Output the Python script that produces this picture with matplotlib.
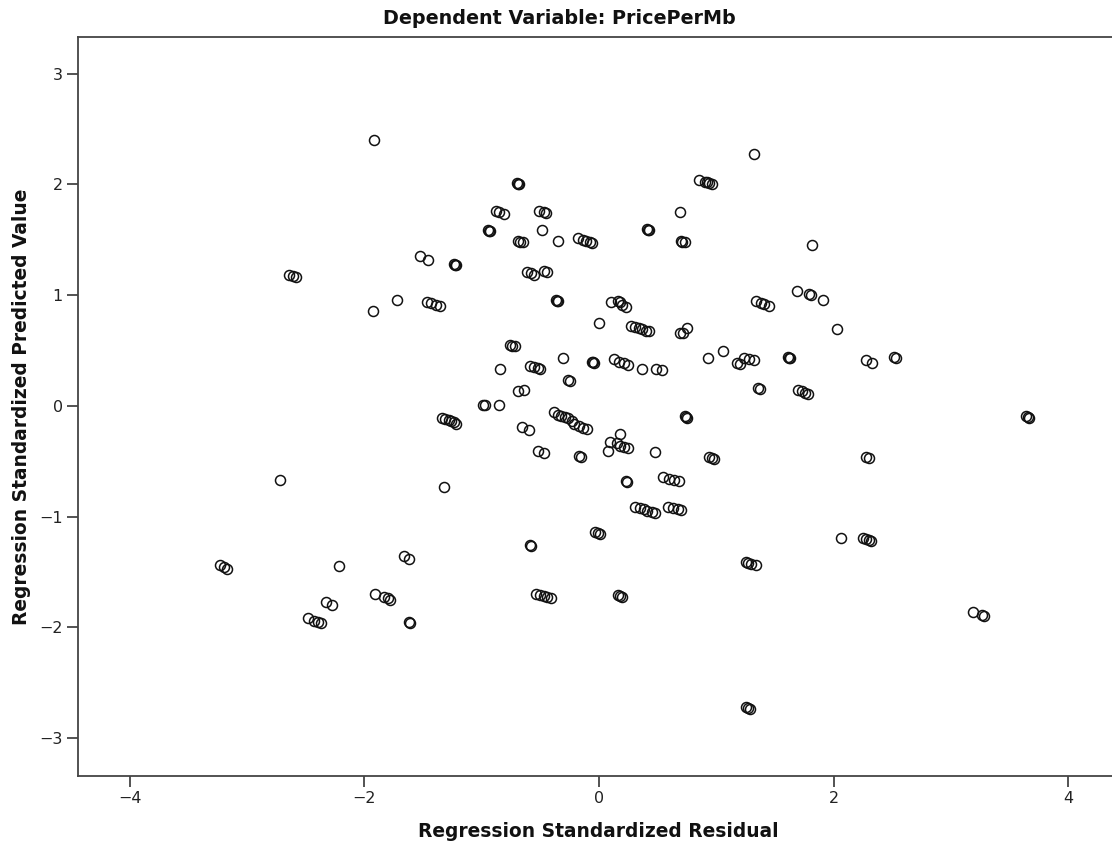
import matplotlib
matplotlib.use("Agg")
import matplotlib.pyplot as plt

# Regression standardized residuals (x) and standardized predicted values (y)
std_residual = [
    -1.92, 1.32,
    -0.70, -0.69, -0.68,
    0.85, 0.90, 0.92, 0.94, 0.96,
    0.69,
    -0.88, -0.85, -0.81,
    -0.51, -0.47, -0.45,
    -0.95, -0.94, -0.93,
    -0.49,
    0.41, 0.42, 0.43,
    0.70, 0.71, 0.73,
    -0.69, -0.67, -0.65,
    -0.35,
    -0.18, -0.14, -0.11, -0.08, -0.06,
    -1.53, -1.46,
    -1.24, -1.23, -1.22,
    -0.61, -0.58, -0.55,
    -0.47, -0.44,
    -2.64, -2.61, -2.58,
    1.82,
    -0.37, -0.36, -0.35,
    0.10, 0.16, 0.18, 0.20, 0.23,
    1.34, 1.38, 1.41, 1.45,
    -1.72,
    -1.93,
    -1.47, -1.43, -1.39, -1.36,
    0.00,
    0.27, 0.31, 0.34, 0.37, 0.40, 0.43,
    0.69, 0.72, 0.75,
    1.69,
    1.79, 1.81,
    1.91,
    2.03,
    -0.76, -0.74, -0.72,
    -0.84,
    -0.59, -0.55, -0.52, -0.50,
    -0.31,
    -0.06, -0.05, -0.04,
    0.13, 0.17, 0.21, 0.25,
    0.37,
    0.49, 0.54,
    0.93,
    1.06,
    1.18, 1.20, 1.24, 1.28, 1.32,
    1.36, 1.37,
    -0.26, -0.25,
    -0.69, -0.64,
    -0.99, -0.97, -0.85,
    1.61, 1.62, 1.63,
    2.28, 2.33,
    2.52, 2.53,
    1.70, 1.73, 1.76, 1.78,
    3.64, 3.66, 3.67,
    -1.34, -1.31, -1.28, -1.26, -1.24, -1.22,
    -0.38, -0.35, -0.32, -0.29, -0.26, -0.23, -0.21,
    -0.17, -0.14, -0.10,
    0.73, 0.74, 0.75,
    -0.66, -0.60,
    0.18,
    0.09, 0.15, 0.18, 0.21, 0.25,
    0.08,
    0.48,
    -0.52, -0.47,
    -0.17, -0.15,
    0.94, 0.96, 0.98,
    0.23, 0.24,
    0.55, 0.60, 0.64, 0.68,
    -2.72,
    -1.32,
    0.31, 0.35, 0.38, 0.41, 0.45, 0.48,
    0.59, 0.63, 0.67, 0.70,
    -0.03, -0.01, 0.01,
    -0.59, -0.58,
    2.28, 2.30,
    2.06,
    2.25, 2.28, 2.30, 2.32,
    1.25, 1.27, 1.30, 1.34,
    -1.66, -1.62,
    -2.22,
    -3.23, -3.20, -3.17,
    -1.91,
    -1.83, -1.80, -1.78,
    -2.33, -2.28,
    -2.48,
    -2.43, -2.40, -2.37,
    -1.62, -1.61,
    -0.54, -0.50, -0.47, -0.44, -0.41,
    0.16, 0.18, 0.20,
    3.19,
    3.27, 3.28,
    1.25, 1.27, 1.29,
]

std_predicted = [
    2.40, 2.28,
    2.01, 2.00, 2.00,
    2.04, 2.02, 2.02, 2.01, 2.00,
    1.75,
    1.76, 1.75, 1.73,
    1.76, 1.75, 1.74,
    1.59, 1.58, 1.58,
    1.59,
    1.60, 1.59, 1.59,
    1.49, 1.48, 1.48,
    1.49, 1.48, 1.48,
    1.49,
    1.52, 1.50, 1.49, 1.48, 1.47,
    1.35, 1.32,
    1.28, 1.27, 1.27,
    1.21, 1.20, 1.18,
    1.22, 1.21,
    1.18, 1.17, 1.16,
    1.45,
    0.96, 0.95, 0.95,
    0.94, 0.95, 0.94, 0.91, 0.89,
    0.95, 0.93, 0.92, 0.90,
    0.96,
    0.86,
    0.94, 0.93, 0.91, 0.90,
    0.75,
    0.72, 0.71, 0.70, 0.69, 0.68, 0.68,
    0.66, 0.66, 0.70,
    1.04,
    1.01, 1.00,
    0.96,
    0.69,
    0.55, 0.54, 0.54,
    0.33,
    0.36, 0.35, 0.34, 0.33,
    0.43,
    0.40, 0.40, 0.39,
    0.42, 0.40, 0.39, 0.37,
    0.33,
    0.33, 0.32,
    0.43,
    0.50,
    0.39, 0.38, 0.43, 0.42, 0.41,
    0.16, 0.15,
    0.23, 0.22,
    0.13, 0.14,
    0.01, 0.01, 0.01,
    0.44, 0.43, 0.43,
    0.41, 0.39,
    0.44, 0.43,
    0.14, 0.13, 0.12, 0.11,
    -0.09, -0.10, -0.11,
    -0.11, -0.12, -0.13, -0.14, -0.15, -0.16,
    -0.06, -0.08, -0.09, -0.10, -0.11, -0.14, -0.16,
    -0.18, -0.20, -0.21,
    -0.09, -0.10, -0.11,
    -0.19, -0.22,
    -0.25,
    -0.33, -0.34, -0.36, -0.37, -0.38,
    -0.41,
    -0.42,
    -0.41, -0.43,
    -0.45, -0.46,
    -0.46, -0.47, -0.48,
    -0.68, -0.69,
    -0.64, -0.66, -0.67, -0.68,
    -0.67,
    -0.73,
    -0.91, -0.92, -0.93, -0.95, -0.96, -0.97,
    -0.91, -0.92, -0.93, -0.94,
    -1.14, -1.15, -1.16,
    -1.26, -1.27,
    -0.46, -0.47,
    -1.19,
    -1.19, -1.20, -1.21, -1.22,
    -1.41, -1.42, -1.43, -1.44,
    -1.36, -1.38,
    -1.45,
    -1.44, -1.46, -1.47,
    -1.70,
    -1.73, -1.74, -1.75,
    -1.77, -1.80,
    -1.92,
    -1.94, -1.95, -1.96,
    -1.95, -1.96,
    -1.70, -1.71, -1.72, -1.73, -1.74,
    -1.71, -1.72, -1.73,
    -1.86,
    -1.89, -1.90,
    -2.72, -2.73, -2.74,
]

x_ticks = [-4, -2, 0, 2, 4]
y_ticks = [-3, -2, -1, 0, 1, 2, 3]
x_tick_labels = ["\u22124", "\u22122", "0", "2", "4"]
y_tick_labels = ["\u22123", "\u22122", "\u22121", "0", "1", "2", "3"]

W, H = 1112, 846
fig = plt.figure(figsize=(W / 100, H / 100), dpi=100)
fig.patch.set_facecolor("white")

left, right, bottom, top = 78, 1112, 775.5, 37.3
ax = fig.add_axes([left / W, 1 - bottom / H, (right - left) / W, (bottom - top) / H])

ax.plot(std_residual, std_predicted, linestyle="none", marker="o",
        markersize=7.2, markerfacecolor="none", markeredgecolor="#111111",
        markeredgewidth=1.1)

ax.set_xlim(-4.443, 4.375)
ax.set_ylim(-3.34, 3.33)

ax.set_xticks(x_ticks)
ax.set_xticklabels(x_tick_labels)
ax.set_yticks(y_ticks)
ax.set_yticklabels(y_tick_labels)

spine_color = "#444444"
for side in ["left", "bottom", "top"]:
    ax.spines[side].set_color(spine_color)
    ax.spines[side].set_linewidth(1.3)
ax.spines["right"].set_visible(False)

ax.tick_params(axis="both", direction="out", length=8, width=1.3,
               color=spine_color, labelsize=11.5, labelcolor="#222222", pad=3)

fig.text(559 / W, 1 - 19 / H, "Dependent Variable: PricePerMb",
         ha="center", va="center", fontsize=13.8, fontweight="bold", color="#111111")
fig.text(598 / W, 1 - 831 / H, "Regression Standardized Residual",
         ha="center", va="center", fontsize=13.4, fontweight="bold", color="#111111")
fig.text(22 / W, 1 - 406.5 / H, "Regression Standardized Predicted Value",
         ha="center", va="center", rotation=90, fontsize=13.4, fontweight="bold",
         color="#111111")

fig.savefig("out.png", dpi=100, facecolor="white")
